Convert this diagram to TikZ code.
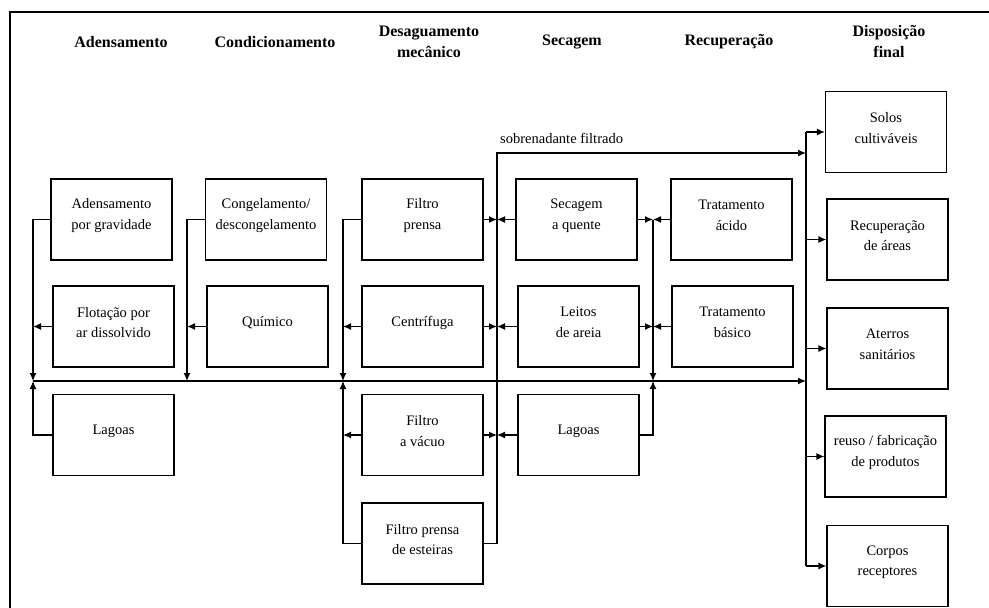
\documentclass[tikz,border=0pt]{standalone}
\usepackage{fontspec}
\setmainfont{Liberation Serif}
\usetikzlibrary{arrows.meta}

% a stage box: empty frame plus its caption set slightly above centre
\newcommand\stagebox[3]{%
  \node[box] (#1) at (#2) {};
  \node[txt] (#1-t) at ([yshift=4pt]#1.center) {#3};}

\begin{document}
\begin{tikzpicture}[x=1pt,y=-1pt,
  box/.style={draw, line width=1.2pt, minimum width=121pt, minimum height=81pt, inner sep=0pt},
  txt/.style={font=\rmfamily\fontsize{14.5}{20.5}\selectfont, align=center, inner sep=0pt},
  head/.style={font=\rmfamily\bfseries\fontsize{16}{21}\selectfont, align=center, inner sep=0pt},
  link/.style={line width=1.2pt},
  arr/.style={link, -{Latex[length=8pt,width=7pt]}}]

\useasboundingbox (0,0) rectangle (989,608);
\fill[white] (0,0) rectangle (989,608);

% outer frame (top and left edges)
\draw[line width=1.2pt] (10,608) -- (10,12) -- (989,12);

% column headings
\node[head] (h1) at (121,42) {Adensamento};
\node[head] (h2) at (275,42) {Condicionamento};
\node[head] (h3) at (429,42) {Desaguamento\\mecânico};
\node[head] (h4) at (572,42) {Secagem};
\node[head] (h5) at (729,42) {Recuperação};
\node[head] (h6) at (889,42) {Disposição\\final};

% process stages
\stagebox{a1}{111.5,219.5}{Adensamento\\por gravidade}
\stagebox{a2}{113.5,326.5}{Flotação por\\ar dissolvido}
\stagebox{a3}{113.5,435}{Lagoas}
\stagebox{c1}{266,219.5}{Congelamento/\\descongelamento}
\stagebox{c2}{267.5,326.5}{Químico}
\stagebox{m1}{422.5,219.5}{Filtro\\prensa}
\stagebox{m2}{422.5,326.5}{Centrífuga}
\stagebox{m3}{422.5,435}{Filtro\\a vácuo}
\stagebox{m4}{422.5,543.5}{Filtro prensa\\de esteiras}
\stagebox{s1}{576.5,219.5}{Secagem\\a quente}
\stagebox{s2}{578.5,326.5}{Leitos\\de areia}
\stagebox{s3}{578.5,435}{Lagoas}
\stagebox{r1}{731.5,219.5}{Tratamento\\ácido}
\stagebox{r2}{732.5,326.5}{Tratamento\\básico}
\stagebox{d1}{886,132}{Solos\\cultiváveis}
\stagebox{d2}{887.5,239.5}{Recuperação\\de áreas}
\stagebox{d3}{887.5,348.5}{Aterros\\sanitários}
\stagebox{d4}{885.5,456.5}{reuso / fabricação\\de produtos}
\stagebox{d5}{887.5,566}{Corpos\\receptores}

% junctions on the main line and bus tops
\coordinate (j1) at (33,381);
\coordinate (j2) at (187,381);
\coordinate (j3) at (343,381);
\coordinate (j4) at (653,381);
\coordinate (j6) at (806,381);
\coordinate (sob) at (497,153);

% main line to final disposal
\draw[arr] (j1) -- (j6);

% thickening
\draw[arr] (a1.west) -| (j1);
\draw[arr] (a2.west) -- (a2.west -| j1);
\draw[arr] (a3.west) -| (j1);

% conditioning
\draw[arr] (c1.west) -| (j2);
\draw[arr] (c2.west) -- (c2.west -| j2);

% mechanical dewatering, sludge side
\draw[arr] (m1.west) -| (j3);
\draw[arr] (m2.west) -- (m2.west -| j3);
\draw[arr] (m3.west) -- (m3.west -| j3);
\draw[arr] (m4.west) -| (j3);

% filtered supernatant bus
\draw[arr] (m4.east) -| (sob) -- (sob -| j6);
\node[txt, anchor=base west] (sobl) at (500,143) {sobrenadante filtrado};
\draw[arr] (m1.east) -- (m1.east -| sob);
\draw[arr] (m2.east) -- (m2.east -| sob);
\draw[arr] (m3.east) -- (m3.east -| sob);
\draw[arr] (s1.west) -- (s1.west -| sob);
\draw[arr] (s2.west) -- (s2.west -| sob);
\draw[arr] (s3.west) -- (s3.west -| sob);

% drying and recovery bus
\draw[arr] (s1.east) -- (s1.east -| j4);
\draw[arr] (s2.east) -- (s2.east -| j4);
\draw[arr] (r1.west) -- (r1.west -| j4);
\draw[arr] (r2.west) -- (r2.west -| j4);
\draw[arr] (s1.east -| j4) -- (j4);
\draw[arr] (s3.east) -| (j4);

% final disposal bus
\draw[link] (d1.west -| j6) -- (d5.west -| j6);
\draw[arr] (d1.west -| j6) -- (d1.west);
\draw[arr] (d2.west -| j6) -- (d2.west);
\draw[arr] (d3.west -| j6) -- (d3.west);
\draw[arr] (d4.west -| j6) -- (d4.west);
\draw[arr] (d5.west -| j6) -- (d5.west);
\end{tikzpicture}
\end{document}
